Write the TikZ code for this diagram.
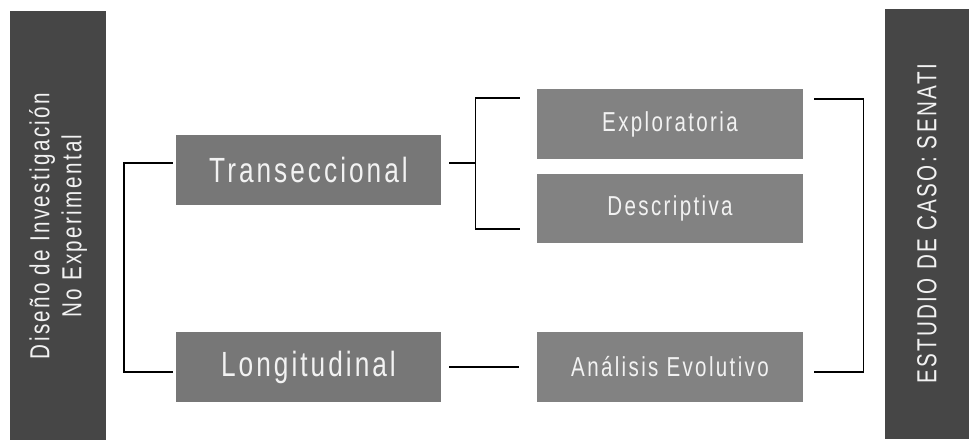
\documentclass[tikz,border=0pt]{standalone}
\usepackage{fontspec}
\setmainfont{Liberation Sans}
\newfontfamily\boxfont[FakeStretch=0.75,LetterSpace=8.6]{Liberation Sans}
\usepackage{tikz}
\usetikzlibrary{positioning,calc}

\definecolor{barcol}{HTML}{464646}
\definecolor{darkbox}{HTML}{777777}
\definecolor{lightbox}{HTML}{828282}
\definecolor{txtcol}{HTML}{F2F2F2}

\begin{document}
\begin{tikzpicture}[x=1pt,y=-1pt,
  sidebar/.style={fill=barcol,text=txtcol,rotate=90,minimum height=#1,minimum width=430pt,inner sep=0pt,align=center,font=\boxfont\fontsize{27.5}{32}\selectfont},
  mainbox/.style={fill=darkbox,text=txtcol,minimum width=265pt,minimum height=70pt,inner sep=0pt,font=\boxfont\fontsize{35}{40}\selectfont},
  subbox/.style={fill=lightbox,text=txtcol,minimum width=266pt,minimum height=70pt,inner sep=0pt,font=\boxfont\fontsize{27.4}{30}\selectfont},
  conn/.style={line width=1.4pt,black}]
  \useasboundingbox (0,0) rectangle (969,439);
  \node[sidebar=96pt] (diseno) at (58,226) {Diseño de Investigación\\No Experimental};
  \node[sidebar=84pt] (estudio) at (927,224) {ESTUDIO DE CASO: SENATI};
  \node[mainbox] (trans) at (308.5,169.5) {Transeccional};
  \node[mainbox] (longi) at (308.5,367) {Longitudinal};
  \node[subbox] (explo) at (670,124) {Exploratoria};
  \node[subbox,minimum height=69pt] (descr) at (670,208.5) {Descriptiva};
  \node[subbox] (analisis) at (670,367) {Análisis Evolutivo};
  % brackets
  \draw[conn] ([xshift=-3pt,yshift=6.5pt]trans.west) -- ++(-49,0) |- ([xshift=-3pt,yshift=-5pt]longi.west);
  \draw[conn] ([xshift=8pt,yshift=6.5pt]trans.east) -- ++(26,0) coordinate (tb);
  \draw[conn] ([xshift=-17pt,yshift=26pt]explo.west) -| (tb) |- ([xshift=-17pt,yshift=-20.5pt]descr.west);
  \draw[conn] ([xshift=8pt]longi.east) -- ([xshift=-18pt]analisis.west);
  \draw[conn] ([xshift=11pt,yshift=25pt]explo.east) -- ++(49,0) |- ([xshift=11pt,yshift=-5pt]analisis.east);
\end{tikzpicture}
\end{document}
